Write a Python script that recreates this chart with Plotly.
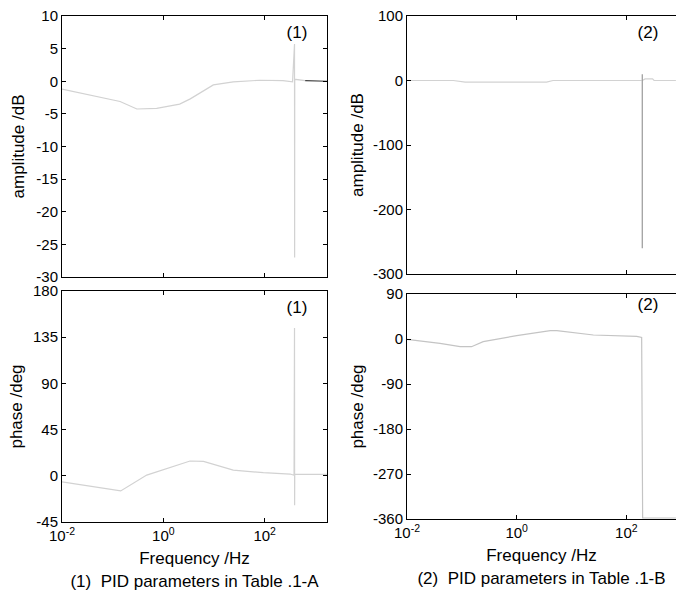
import math
import plotly.graph_objects as go

# ---------------- data ----------------
# Panel (1): PID parameters in Table .1-A
amp1_freq = [0.01, 0.14, 0.30, 0.74, 2.1, 3.4, 9.7, 24, 80, 230, 355, 388, 390, 392, 630]
amp1_db = [-1.2, -3.1, -4.25, -4.15, -3.5, -2.7, -0.56, -0.1, 0.15, 0.1, -0.1, 5.7, -27.0, 0.3, 0.1]
amp1_tail_freq = [630, 1700]
amp1_tail_db = [0.1, 0.0]

ph1_freq = [0.01, 0.144, 0.47, 1.0, 3.36, 6.2, 24, 94, 318, 380, 388, 390, 392, 1700]
ph1_deg = [-5.9, -14.7, 0.7, 6.2, 14.4, 14.0, 5.6, 3.0, 1.7, 0.5, 144, -28.7, 1.4, 1.4]

# Panel (2): PID parameters in Table .1-B
amp2_freq = [0.01, 0.07, 0.115, 3.5, 4.6, 100, 190]
amp2_db = [0.0, 0.0, -2.6, -2.6, 0.0, 0.0, 0.0]
amp2_spike_freq = [195, 195, 195]
amp2_spike_db = [0.0, 9.8, -260]
amp2_tail_freq = [195, 220, 300, 320, 800]
amp2_tail_db = [0.0, 2.5, 2.5, 0.0, 0.0]

ph2_freq = [0.01, 0.04, 0.093, 0.15, 0.245, 1.0, 4.1, 5.4, 25, 155, 190, 198, 800]
ph2_deg = [-0.6, -8.7, -15.4, -15.4, -5.4, 6.7, 16.8, 16.8, 8.0, 5.4, 3.0, -358, -358]

# panel tags "(1)" / "(2)" (frequency, value) inside each panel
tag_text = ["(1)", "(2)", "(1)", "(2)"]
tag_freq = [434, 248, 434, 248]
tag_val = [7.3, 72, 163, 66]

# axis ticks / labels
x_tickvals = [0.01, 1, 100]
x_ticktext = ["10<sup>-2</sup>", "10<sup>0</sup>", "10<sup>2</sup>"]
amp1_ticks = [-30, -25, -20, -15, -10, -5, 0, 5, 10]
amp2_ticks = [-300, -200, -100, 0, 100]
ph1_ticks = [-45, 0, 45, 90, 135, 180]
ph2_ticks = [-360, -270, -180, -90, 0, 90]

amp_title = "amplitude /dB"
phase_title = "phase /deg"
freq_title = "Frequency /Hz"
caption1 = "(1)\u00a0 PID parameters in Table .1-A"
caption2 = "(2)\u00a0 PID parameters in Table .1-B"

W, H = 676, 599
LIGHT = "#d2d2d2"
serif = "Liberation Sans"

fig = go.Figure()

def line(x, y, xa, ya, color=LIGHT, width=1.2):
    fig.add_trace(go.Scatter(x=x, y=y, mode="lines", xaxis=xa, yaxis=ya,
                             line=dict(color=color, width=width),
                             showlegend=False, hoverinfo="skip"))

line(amp1_freq, amp1_db, "x", "y")
line(amp1_tail_freq, amp1_tail_db, "x", "y", color="#404040")
line(amp2_freq, amp2_db, "x2", "y2")
line(amp2_tail_freq, amp2_tail_db, "x2", "y2")
line(amp2_spike_freq, amp2_spike_db, "x2", "y2", color="#999999")
line(ph1_freq, ph1_deg, "x3", "y3")
line(ph2_freq, ph2_deg, "x4", "y4", color="#c4c4c4")

for i, ax_id in enumerate(["", "2", "3", "4"]):
    fig.add_trace(go.Scatter(x=[tag_freq[i]], y=[tag_val[i]], mode="text", text=[tag_text[i]],
                             textposition="middle center", xaxis="x" + ax_id, yaxis="y" + ax_id,
                             textfont=dict(family=serif, size=17, color="black"),
                             showlegend=False, hoverinfo="skip"))

def px_x(p):
    return p / W

def px_y(p):
    return 1 - p / H

tickfont = dict(family="Liberation Sans", size=15, color="black")

def xaxis(dom, rng, labels, anchor, title=None, mirror="ticks"):
    d = dict(type="log", domain=dom, range=rng, showgrid=False, zeroline=False,
             anchor=anchor, automargin=True,
             showline=True, linecolor="black", linewidth=1, mirror=mirror,
             ticks="inside", ticklen=4, tickcolor="black", tickwidth=1,
             tickmode="array", tickvals=x_tickvals, ticktext=x_ticktext,
             showticklabels=labels, tickfont=tickfont)
    if title:
        d["title"] = dict(text=title, font=dict(family=serif, size=17, color="black"), standoff=9)
    return d

def yaxis(dom, rng, tv, anchor, title, standoff, mirror="ticks"):
    return dict(domain=dom, range=rng, showgrid=False, zeroline=False, anchor=anchor,
                automargin=True,
                showline=True, linecolor="black", linewidth=1, mirror=mirror,
                ticks="inside", ticklen=4, tickcolor="black", tickwidth=1,
                tickmode="array", tickvals=tv, ticktext=[str(v) for v in tv],
                tickfont=tickfont,
                title=dict(text=title, font=dict(family=serif, size=17, color="black"),
                           standoff=standoff))

L_dom = [px_x(62), px_x(327)]
R_dom = [px_x(407), 1.0]
L_rng = [-2, 3.23]
R_rng = [-2, 2.905]

fig.update_layout(
    width=W, height=H, margin=dict(l=0, r=0, t=0, b=0, pad=0, autoexpand=False),
    paper_bgcolor="white", plot_bgcolor="white", showlegend=False,
    xaxis=xaxis(L_dom, L_rng, False, "y"),
    yaxis=yaxis([px_y(277), px_y(16)], [-30, 10], amp1_ticks, "x", amp_title, 7),
    xaxis2=xaxis(R_dom, R_rng, False, "y2"),
    yaxis2=yaxis([px_y(274), px_y(16)], [-300, 100], amp2_ticks, "x2", amp_title, 5, mirror=False),
    xaxis3=xaxis(L_dom, L_rng, True, "y3", freq_title + "<br>" + caption1),
    yaxis3=yaxis([px_y(522), px_y(291)], [-45, 180], ph1_ticks, "x3", phase_title, 6),
    xaxis4=xaxis(R_dom, R_rng, True, "y4", freq_title + "<br>" + caption2),
    yaxis4=yaxis([px_y(519), px_y(294)], [-360, 90], ph2_ticks, "x4", phase_title, 5, mirror=False),
)

fig.write_html("out.html")
